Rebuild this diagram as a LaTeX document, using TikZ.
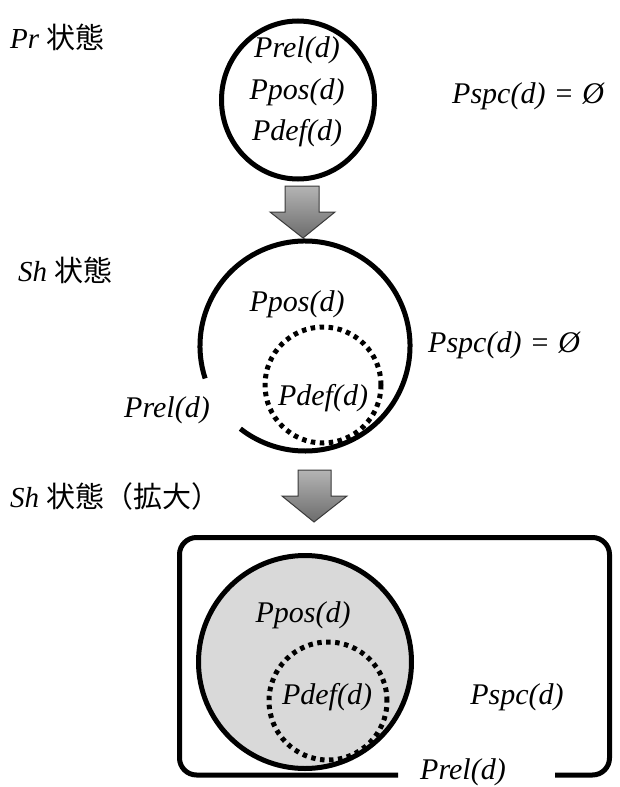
\documentclass[tikz,border=0pt]{standalone}
\usepackage{fontspec}
\setmainfont{Liberation Serif}
\newfontfamily\cjk{Noto Sans CJK JP}
\usetikzlibrary{shapes.geometric}
\definecolor{lightfill}{HTML}{D9D9D9}
\definecolor{arrowtop}{HTML}{B4B4B4}
\definecolor{arrowbot}{HTML}{6C6C6C}
\definecolor{arrowline}{HTML}{3A3A3A}
\tikzset{
  lbl/.style={font=\fontsize{30}{36}\selectfont\itshape, inner sep=0pt},
  head/.style={font=\fontsize{29}{34}\selectfont, inner sep=0pt, anchor=west},
  thick line/.style={line width=5pt},
  dotline/.style={line width=5pt, dash pattern=on 4.5pt off 4.5pt},
  blockarrow/.style={draw=arrowline, line width=1pt, top color=arrowtop, bottom color=arrowbot, line join=miter},
}
\begin{document}
\begin{tikzpicture}[x=1pt,y=-1pt]
\useasboundingbox (0,0) rectangle (619,787);
% headings
\node[head] (h1) at (10,37) {\textit{Pr} {\cjk 状態}};
\node[head] (h2) at (18,270) {\textit{Sh} {\cjk 状態}};
\node[head] (h3) at (10,496) {\textit{Sh} {\cjk 状態（拡大）}};

% Pr state
\node[draw, ellipse, thick line, minimum width=153pt, minimum height=158pt, inner sep=0pt] (c1) at (298,100) {};
\node[lbl] (c1a) at (297,50) {Prel(d)};
\node[lbl] (c1b) at (297,92) {Ppos(d)};
\node[lbl] (c1c) at (297,133) {Pdef(d)};
\node[lbl, anchor=west] (s1) at (452,96) {Pspc(d)\,\,{\upshape =}\,\,Ø};

% arrow 1
\path[blockarrow] (285,186) -- (319,186) -- (319,212) -- (335,212) -- (303,238) -- (270,212) -- (285,212) -- cycle;

% Sh state
\coordinate (c2) at (305,346);
\draw[thick line] (c2) ++(162:105) arc[start angle=162, end angle=488, radius=105];
\node[draw, circle, dotline, minimum size=116pt, inner sep=0pt] (d2) at (323,385) {};
\node[lbl] (p2) at (297,304) {Ppos(d)};
\node[lbl] (q2) at (323,398) {Pdef(d)};
\node[lbl] (r2) at (167,410) {Prel(d)};
\node[lbl, anchor=west] (s2) at (428,345) {Pspc(d)\,\,{\upshape =}\,\,Ø};

% arrow 2
\path[blockarrow] (298,470) -- (331,470) -- (331,496) -- (347,496) -- (314,522) -- (282,496) -- (298,496) -- cycle;

% Sh enlarged
\draw[thick line, rounded corners=17pt] (555,775) -- (609.5,775) -- (609.5,537.5) -- (179.5,537.5) -- (179.5,775) -- (398,775);
\node[draw, circle, thick line, fill=lightfill, minimum size=213pt, inner sep=0pt] (c3) at (305,662) {};
\node[draw, circle, dotline, minimum size=118pt, inner sep=0pt] (d3) at (328,701) {};
\node[lbl] (p3) at (303,615) {Ppos(d)};
\node[lbl] (q3) at (327,697) {Pdef(d)};
\node[lbl] (s3) at (517,697) {Pspc(d)};
\node[lbl] (r3) at (463,772) {Prel(d)};
\end{tikzpicture}
\end{document}
